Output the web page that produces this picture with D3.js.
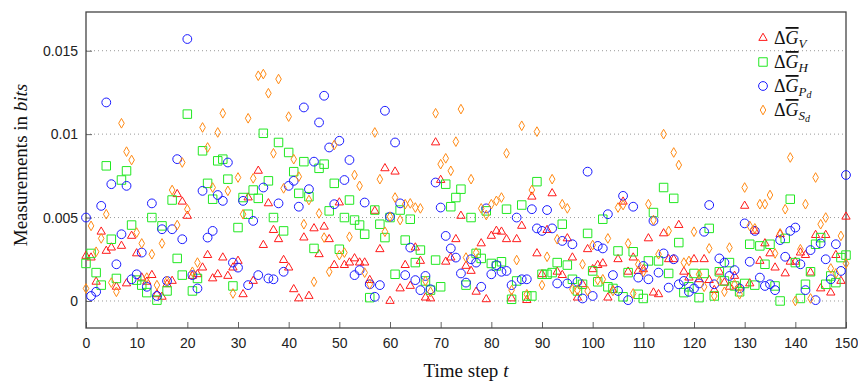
<!DOCTYPE html>
<html>
<head>
<meta charset="utf-8">
<script src="https://cdn.jsdelivr.net/npm/d3@7"></script>
<style>
	body { margin: 0; background: #fff; }
	svg { display: block; }
	.tick text { font-family: "Liberation Sans", Arial, sans-serif; font-size: 14px; fill: #222; }
	.lbl { font-family: "Liberation Serif", "DejaVu Serif", serif; fill: #111; }
</style>
</head>
<body>
<svg id="chart" width="858" height="385"></svg>
<script>
// values, in units of 1e-3 bits, one per time step 0..150
const gV = [2.7,2.6,1.15,4.15,3.0,3.2,0.85,3.3,1.05,3.9,2.85,1.4,1.15,1.55,0.4,0.25,1.0,1.2,6.4,5.95,
	5.1,1.5,1.6,2.0,2.75,1.35,1.6,2.6,1.5,2.0,2.4,0.4,6.2,1.2,7.8,3.35,5.85,4.25,3.7,2.45,
	2.0,0.7,0.15,3.8,0.3,4.35,2.8,4.45,3.7,2.15,5.9,2.15,2.3,2.55,2.3,2.3,1.25,5.4,3.1,7.95,
	0.0,7.75,0.75,2.15,0.9,3.2,2.4,0.2,0.15,9.5,7.25,2.35,2.6,3.7,5.1,2.1,1.8,0.55,3.45,0.1,
	3.9,4.2,4.15,3.7,0.15,3.7,4.5,0.05,6.25,2.85,1.6,4.25,6.45,1.75,1.55,3.75,2.6,0.2,1.0,3.1,
	1.9,2.15,2.25,0.2,0.65,2.5,5.95,1.75,2.6,1.8,1.9,3.75,0.5,0.4,4.05,2.5,2.5,4.55,1.75,1.4,
	2.5,1.3,2.5,1.25,0.65,1.75,1.1,0.85,1.5,0.8,5.7,1.05,4.2,2.4,3.45,2.85,2.0,4.0,1.65,2.35,
	2.35,2.9,2.75,1.7,3.95,0.75,3.95,0.5,2.75,1.2,5.05]
const gH = [2.25,2.85,1.7,0.95,8.1,3.7,1.35,7.25,7.8,4.55,1.25,0.95,0.5,5.0,0.05,4.5,0.6,6.05,2.55,1.55,
	11.2,0.6,1.35,9.0,7.05,6.1,8.4,8.5,7.3,0.9,4.4,6.2,5.2,6.65,6.15,10.05,7.2,5.0,9.5,4.2,
	8.9,7.75,6.45,8.35,6.25,3.15,7.95,8.2,5.4,7.05,3.1,5.0,6.05,4.85,4.55,4.0,0.2,5.45,4.6,3.8,
	5.0,1.6,5.45,3.65,4.9,2.3,3.05,1.2,0.65,2.45,0.85,7.0,5.65,6.2,6.7,0.95,5.0,2.85,2.55,5.4,
	2.25,2.1,2.35,5.5,0.1,1.2,5.75,0.3,0.3,7.15,1.6,1.6,1.7,2.3,4.6,2.15,1.3,0.6,1.0,4.05,
	1.8,1.15,4.9,0.85,0.75,3.0,0.25,1.7,2.95,0.4,0.15,2.4,5.3,2.4,6.8,1.65,6.15,3.5,0.5,0.85,
	1.65,0.2,1.65,4.35,0.3,1.75,1.2,2.3,0.9,0.55,1.05,3.4,0.95,3.3,2.2,3.4,0.9,0.0,3.75,6.1,
	2.3,0.15,1.0,1.75,3.4,3.8,1.0,1.5,1.1,2.6,2.75]
const gPd = [5.0,0.3,0.55,5.7,11.9,7.0,2.2,4.0,6.9,1.3,1.6,2.9,0.85,5.85,0.3,4.3,1.2,4.3,8.5,3.7,
	15.7,1.55,0.75,6.6,3.8,4.2,6.35,6.0,8.3,2.3,2.0,6.0,0.95,4.8,1.55,6.8,1.35,1.3,5.85,1.75,
	6.9,7.2,5.65,11.6,6.7,8.35,10.7,12.3,9.2,5.8,9.6,7.25,8.45,1.55,1.85,5.9,1.0,0.25,0.95,11.4,
	5.05,9.5,5.85,1.55,3.2,1.25,0.65,1.5,0.7,7.1,5.6,3.9,3.15,2.6,1.65,1.1,2.5,2.3,0.85,5.55,
	1.6,2.15,1.75,1.8,0.95,5.0,1.3,1.3,5.5,4.35,4.2,5.45,4.35,1.05,3.6,1.05,3.4,1.15,0.15,7.75,
	0.3,3.3,3.15,5.2,1.55,0.6,6.3,0.05,5.65,1.4,2.1,1.3,4.8,1.7,2.85,0.8,2.5,1.0,1.2,0.55,
	0.75,1.05,4.15,5.75,1.0,2.55,2.3,1.5,1.85,0.75,4.65,2.35,4.2,1.4,0.9,1.0,0.65,3.65,2.65,4.2,
	4.4,2.2,0.65,3.05,0.05,3.45,2.5,1.3,3.4,1.8,7.55]
const gSd = [0.75,4.5,2.95,3.75,5.2,1.1,0.55,10.65,8.95,8.45,4.1,3.45,1.4,2.8,0.95,3.45,1.2,6.65,4.55,8.3,
	5.5,1.75,2.3,10.4,9.2,6.8,10.1,11.25,6.6,0.45,7.4,5.2,10.95,7.35,13.5,13.6,12.45,8.85,13.3,6.75,
	11.05,8.5,7.45,4.6,6.05,1.15,5.25,3.8,1.75,9.35,2.75,2.9,3.85,7.55,6.9,1.7,1.0,10.1,7.3,4.15,
	5.05,6.2,4.85,5.8,5.85,5.6,5.55,1.2,0.55,11.25,8.2,8.55,7.8,9.55,11.5,2.6,7.3,2.9,5.55,5.15,
	5.8,6.0,6.2,8.85,0.65,2.45,10.5,0.4,6.65,10.15,0.95,2.65,7.3,3.7,5.8,5.55,0.7,0.65,2.2,0.6,
	3.35,1.25,1.3,3.75,0.6,5.6,5.75,3.45,0.45,2.2,1.75,5.8,4.85,2.8,10.0,4.2,8.9,8.15,2.3,2.4,
	4.15,1.6,0.85,3.15,0.3,1.2,0.55,3.2,1.0,0.4,6.8,4.5,4.35,5.8,5.8,6.35,2.85,4.05,5.5,8.6,
	0.0,3.1,5.8,0.15,7.4,4.6,5.0,1.95,1.65,3.9,2.25]

const xTicks = [0, 10, 20, 30, 40, 50, 60, 70, 80, 90, 100, 110, 120, 130, 140, 150]
const yTicks = [0, 0.005, 0.01, 0.015]
const yTickLabels = ["0", "0.005", "0.01", "0.015"]

const series = [
	{ name: "V", sub: "V", subsub: null, values: gV, color: "#ff1a1a", shape: "triangle" },
	{ name: "H", sub: "H", subsub: null, values: gH, color: "#22e822", shape: "square" },
	{ name: "Pd", sub: "P", subsub: "d", values: gPd, color: "#1a1aff", shape: "circle" },
	{ name: "Sd", sub: "S", subsub: "d", values: gSd, color: "#ff8a14", shape: "diamond" },
]

const frame = { left: 86, right: 846, top: 12, bottom: 328 }

const svg = d3.select("#chart")
const x = d3.scaleLinear().domain([0, 150]).range([frame.left, frame.right])
const y = d3.scaleLinear().domain([-0.00162, 0.01732]).range([frame.bottom, frame.top])

// dotted grid
svg.append("g")
	.selectAll("line")
	.data(yTicks)
	.join("line")
	.attr("x1", frame.left).attr("x2", frame.right)
	.attr("y1", d => y(d)).attr("y2", d => y(d))
	.attr("stroke", "#9a9a9a")
	.attr("stroke-width", 1)
	.attr("stroke-dasharray", "1,3")

// axes, ticks drawn inward
const xAxis = svg.append("g")
	.attr("transform", "translate(0," + frame.bottom + ")")
	.call(d3.axisBottom(x).tickValues(xTicks).tickSizeInner(-6).tickSizeOuter(0).tickPadding(10))
xAxis.select(".domain").remove()
xAxis.selectAll(".tick line").attr("stroke", "#666")

const yAxis = svg.append("g")
	.attr("transform", "translate(" + frame.left + ",0)")
	.call(d3.axisLeft(y).tickValues(yTicks).tickFormat((d, i) => yTickLabels[i]).tickSizeInner(-6).tickSizeOuter(0).tickPadding(8))
yAxis.select(".domain").remove()
yAxis.selectAll(".tick line").attr("stroke", "#666")

// frame
svg.append("rect")
	.attr("x", frame.left).attr("y", frame.top)
	.attr("width", frame.right - frame.left).attr("height", frame.bottom - frame.top)
	.attr("fill", "none")
	.attr("stroke", "#444")
	.attr("stroke-width", 1.3)

const shapes = {
	triangle: d3.symbol().type(d3.symbolTriangle).size(30),
	square: d3.symbol().type(d3.symbolSquare).size(72),
	diamond: d3.symbol().type(d3.symbolDiamond).size(27),
}

function marker(sel, s) {
	if (s.shape === "circle")
		return sel.append("circle").attr("r", 4.4)
	return sel.append("path").attr("d", shapes[s.shape]())
}

const plot = svg.append("g")
series.forEach(s => {
	const g = plot.append("g")
	s.values.forEach((v, t) => {
		marker(g, s)
			.attr("transform", "translate(" + x(t) + "," + y(v / 1000) + ")")
			.attr("fill", "none")
			.attr("stroke", s.color)
			.attr("stroke-width", 1)
	})
})

// legend
const legend = svg.append("g").attr("transform", "translate(763,38)")
series.forEach((s, i) => {
	const row = legend.append("g").attr("transform", "translate(0," + (i * 24) + ")")
	marker(row, s)
		.attr("fill", "none")
		.attr("stroke", s.color)
		.attr("stroke-width", 1)
	const txt = row.append("text")
		.attr("class", "lbl")
		.attr("x", 11).attr("y", 6)
		.attr("font-size", 18)
	txt.append("tspan").text("Δ")
	txt.append("tspan").attr("font-style", "italic").attr("text-decoration", "overline").text("G")
	txt.append("tspan").attr("font-style", "italic").attr("font-size", 13).attr("dy", 4).text(s.sub)
	if (s.subsub)
		txt.append("tspan").attr("font-style", "italic").attr("font-size", 10).attr("dy", 2).text(s.subsub)
})

// axis titles
const xt = svg.append("text")
	.attr("class", "lbl")
	.attr("x", 466).attr("y", 377)
	.attr("text-anchor", "middle")
	.attr("font-size", 19)
xt.append("tspan").text("Time step ")
xt.append("tspan").attr("font-style", "italic").text("t")

const yt = svg.append("text")
	.attr("class", "lbl")
	.attr("transform", "translate(27,165) rotate(-90)")
	.attr("text-anchor", "middle")
	.attr("font-size", 19)
yt.append("tspan").text("Measurements in ")
yt.append("tspan").attr("font-style", "italic").text("bits")
</script>
</body>
</html>
